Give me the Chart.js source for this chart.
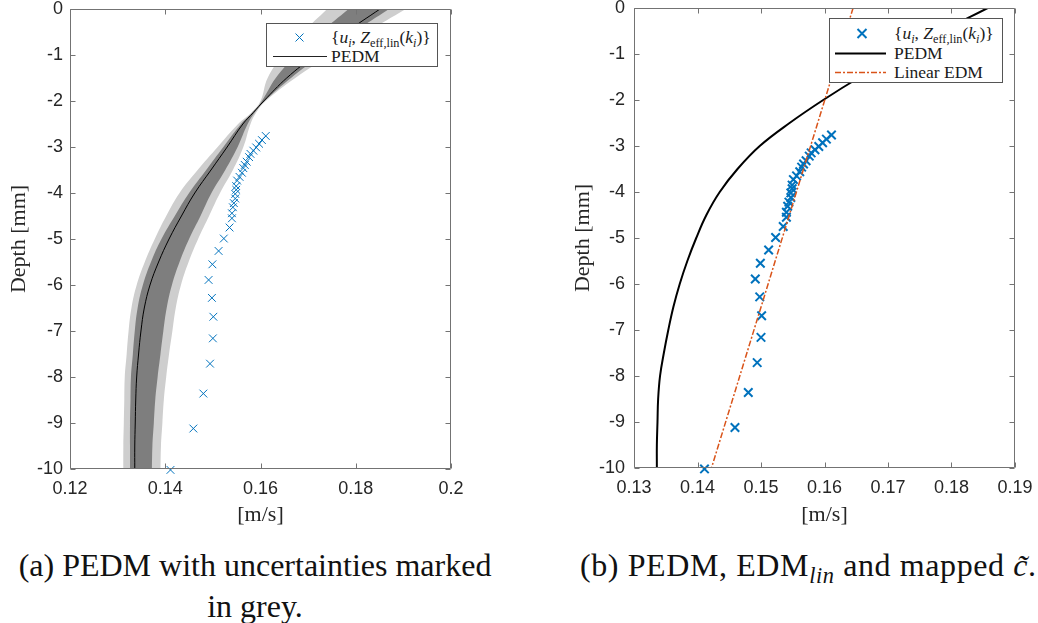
<!DOCTYPE html>
<html>
<head>
<meta charset="utf-8">
<script src="https://cdn.jsdelivr.net/npm/chart.js@4.4.1/dist/chart.umd.min.js"></script>
<style>
  html, body { margin: 0; padding: 0; background: #fff; }
  #page { position: relative; width: 1038px; height: 623px; overflow: hidden; background: #fff; }
  canvas { position: absolute; top: 0; }
  .leg { position: absolute; box-sizing: border-box; background: #fff; border: 1px solid #555;
         font-family: 'Liberation Serif', serif; font-size: 17.5px; color: #1a1a1a; }
  .leg .row { position: absolute; left: 0; height: 20px; display: flex; align-items: center; white-space: nowrap; }
  .leg svg { flex: none; }
  .leg .txt { margin-left: 3px; line-height: 20px; }
  sub { font-size: 70%; vertical-align: -0.3em; line-height: 0; }
  .cap { position: absolute; font-family: 'Liberation Serif', serif; font-size: 32px; line-height: 41px;
         color: #111; white-space: nowrap; }
</style>
</head>
<body>
<div id="page">
  <canvas id="chartA" width="470" height="530" style="left:0px"></canvas>
  <canvas id="chartB" width="478" height="530" style="left:560px"></canvas>

  <div class="leg" style="left:266px; top:23px; width:172px; height:44px;">
    <div class="row" style="top:3px">
      <svg width="61" height="20"><path d="M28.5 6.5 L36.5 14.5 M36.5 6.5 L28.5 14.5" stroke="#0072BD" stroke-width="1" fill="none"/></svg>
      <span class="txt">{<i>u</i><sub><i>i</i></sub>, <i>Z</i><sub>eff,lin</sub>(<i>k</i><sub><i>i</i></sub>)}</span>
    </div>
    <div class="row" style="top:22px">
      <svg width="61" height="20"><path d="M6 10.5 L60 10.5" stroke="#222" stroke-width="1" fill="none"/></svg>
      <span class="txt">PEDM</span>
    </div>
  </div>

  <div class="leg" style="left:829px; top:18px; width:174px; height:65px;">
    <div class="row" style="top:4px">
      <svg width="61" height="20"><path d="M27.5 6 L36.5 15 M36.5 6 L27.5 15" stroke="#0072BD" stroke-width="2" fill="none"/></svg>
      <span class="txt">{<i>u</i><sub><i>i</i></sub>, <i>Z</i><sub>eff,lin</sub>(<i>k</i><sub><i>i</i></sub>)}</span>
    </div>
    <div class="row" style="top:23.5px">
      <svg width="61" height="20"><path d="M5 10.5 L56 10.5" stroke="#000" stroke-width="2" fill="none"/></svg>
      <span class="txt">PEDM</span>
    </div>
    <div class="row" style="top:43px">
      <svg width="61" height="20"><path d="M5 10.5 L56 10.5" stroke="#D95319" stroke-width="1.5" stroke-dasharray="6 2 2 2" fill="none"/></svg>
      <span class="txt">Linear EDM</span>
    </div>
  </div>

  <div class="cap" style="left:0px; top:545px; width:510px; text-align:center;">(a) PEDM with uncertainties marked<br>in grey.</div>
  <div class="cap" style="left:580px; top:545px; letter-spacing:0.6px;">(b) PEDM, EDM<sub><i>lin</i></sub> and mapped <i>c&#x303;</i>.</div>
</div>

<script>
// Depth grid [mm] used for the PEDM curve and its uncertainty bands (left panel)
const bandDepth = [0, -0.5, -1, -1.5, -2, -2.25, -2.5, -3, -3.5, -4, -4.5, -5, -5.5, -6, -6.5, -7, -7.5, -8, -8.5, -9, -9.5, -10];
// PEDM velocity profile [m/s]
const pedmA     = [0.1851, 0.1780, 0.1715, 0.1655, 0.1607, 0.1585, 0.1563, 0.1530, 0.1496, 0.1462, 0.1434, 0.1408, 0.1386, 0.1368, 0.1356, 0.1349, 0.1344, 0.1340, 0.1338, 0.1337, 0.1336, 0.1336];
// Inner (dark) uncertainty band
const darkLow   = [0.1785, 0.1727, 0.1675, 0.1632, 0.1603, 0.1583, 0.1559, 0.1522, 0.1486, 0.1450, 0.1420, 0.1392, 0.1370, 0.1353, 0.1342, 0.1336, 0.1332, 0.1328, 0.1327, 0.1326, 0.1326, 0.1326];
const darkHigh  = [0.1870, 0.1796, 0.1728, 0.1664, 0.1609, 0.1588, 0.1573, 0.1552, 0.1526, 0.1497, 0.1474, 0.1450, 0.1430, 0.1414, 0.1403, 0.1396, 0.1390, 0.1384, 0.1379, 0.1376, 0.1373, 0.1372];
// Outer (light) uncertainty band
const lightLow  = [0.1740, 0.1690, 0.1647, 0.1615, 0.1600, 0.1581, 0.1553, 0.1510, 0.1468, 0.1430, 0.1402, 0.1378, 0.1357, 0.1340, 0.1329, 0.1323, 0.1319, 0.1315, 0.1314, 0.1313, 0.1312, 0.1312];
const lightHigh = [0.1905, 0.1824, 0.1747, 0.1673, 0.1611, 0.1591, 0.1579, 0.1564, 0.1542, 0.1515, 0.1492, 0.1469, 0.1449, 0.1433, 0.1422, 0.1415, 0.1408, 0.1402, 0.1397, 0.1394, 0.1391, 0.1390];

// PEDM profile shown in the right panel
const pedmDepth = [0, -0.5, -1, -1.5, -2, -2.5, -3, -3.5, -4, -4.5, -5, -5.5, -6, -6.5, -7, -7.5, -8, -8.5, -9, -9.5, -10];
const pedmB     = [0.1857, 0.1786, 0.1720, 0.1656, 0.1598, 0.1545, 0.1498, 0.1463, 0.1435, 0.1414, 0.1398, 0.1384, 0.1372, 0.1362, 0.1354, 0.1347, 0.1341, 0.1338, 0.1337, 0.1336, 0.1336];

// Linear EDM
const linDepth = [0, -10];
const linVel   = [0.1645, 0.1422];

// Mapped points {u_i, Z_eff,lin(k_i)}
const obsDepth = [-2.76, -2.85, -2.93, -3.01, -3.08, -3.15, -3.22, -3.32, -3.39, -3.46, -3.56, -3.65, -3.73, -3.85, -3.93, -4.02, -4.12, -4.22, -4.31, -4.44, -4.55, -4.75, -4.99, -5.26, -5.55, -5.89, -6.28, -6.69, -7.16, -7.71, -8.36, -9.12, -10.02];
const obsVel   = [0.1611, 0.1603, 0.1597, 0.1591, 0.1585, 0.1579, 0.1576, 0.1571, 0.1567, 0.1564, 0.1561, 0.1556, 0.1551, 0.1549, 0.1549, 0.1547, 0.1547, 0.1544, 0.1542, 0.1540, 0.1540, 0.1535, 0.1523, 0.1512, 0.1499, 0.1491, 0.1498, 0.1501, 0.1500, 0.1494, 0.1480, 0.1459, 0.1411];

// Axis ticks
const depthTicks  = [0, -1, -2, -3, -4, -5, -6, -7, -8, -9, -10];
const depthLabels = ['0', '-1', '-2', '-3', '-4', '-5', '-6', '-7', '-8', '-9', '-10'];
const velTicksA   = [0.12, 0.14, 0.16, 0.18, 0.2];
const velLabelsA  = ['0.12', '0.14', '0.16', '0.18', '0.2'];
const velTicksB   = [0.13, 0.14, 0.15, 0.16, 0.17, 0.18, 0.19];
const velLabelsB  = ['0.13', '0.14', '0.15', '0.16', '0.17', '0.18', '0.19'];

const pts = (vals, depths) => depths.map((d, i) => ({ x: vals[i], y: d }));

// MATLAB-style box with inward tick marks on all four sides
const boxFrame = {
  id: 'boxFrame',
  afterDatasetsDraw(chart) {
    const { ctx, chartArea: a, scales: { x, y } } = chart;
    const L = Math.round(a.left) + 0.5, R = Math.round(a.right) - 0.5;
    const T = Math.round(a.top) + 0.5, B = Math.round(a.bottom) - 0.5;
    const len = 5;
    ctx.save();
    ctx.strokeStyle = '#737373';
    ctx.lineWidth = 1;
    ctx.beginPath();
    ctx.rect(L, T, R - L, B - T);
    x.ticks.forEach(t => {
      const px = Math.round(x.getPixelForValue(t.value)) + 0.5;
      ctx.moveTo(px, B); ctx.lineTo(px, B - len);
      ctx.moveTo(px, T); ctx.lineTo(px, T + len);
    });
    y.ticks.forEach(t => {
      const py = Math.round(y.getPixelForValue(t.value)) + 0.5;
      ctx.moveTo(L, py); ctx.lineTo(L + len, py);
      ctx.moveTo(R, py); ctx.lineTo(R - len, py);
    });
    ctx.stroke();
    ctx.restore();
  }
};

function makeScales(cfg) {
  const tickFont = { family: "'Liberation Sans', Arial, sans-serif", size: 18 };
  const titleFont = { family: "'Liberation Serif', serif", size: 22 };
  return {
    x: {
      type: 'linear', position: 'bottom', min: cfg.xMin, max: cfg.xMax,
      afterBuildTicks: s => { s.ticks = cfg.xTicks.map(v => ({ value: v })); },
      afterFit: s => { s.height = cfg.xHeight; s.paddingLeft = 0; s.paddingRight = 0; },
      grid: { display: false, drawTicks: false },
      border: { display: false },
      ticks: {
        autoSkip: false, maxRotation: 0, padding: 9, color: '#262626', font: tickFont,
        callback: v => cfg.xLabels[cfg.xTicks.indexOf(v)]
      },
      title: { display: true, text: '[m/s]', color: '#262626', font: titleFont, padding: { top: 0, bottom: 2 } }
    },
    y: {
      type: 'linear', position: 'left', min: -10, max: 0,
      afterBuildTicks: s => { s.ticks = depthTicks.slice().reverse().map(v => ({ value: v })); },
      afterFit: s => { s.width = cfg.yWidth; s.paddingTop = 0; s.paddingBottom = 0; },
      grid: { display: false, drawTicks: false },
      border: { display: false },
      ticks: {
        autoSkip: false, padding: cfg.yPad, color: '#262626', font: tickFont,
        callback: v => depthLabels[depthTicks.indexOf(v)]
      },
      title: { display: true, text: 'Depth [mm]', color: '#262626', font: titleFont, padding: { top: cfg.yTitlePad, bottom: 0 } }
    }
  };
}

const common = {
  responsive: false,
  animation: false,
  devicePixelRatio: 1,
  indexAxis: 'y',
  events: [],
  plugins: { legend: { display: false }, tooltip: { enabled: false } }
};

const smooth = { tension: 0.4, pointRadius: 0 };
const band = (vals, fill, color) => Object.assign({
  data: pts(vals, bandDepth), borderColor: 'rgba(0,0,0,0)', borderWidth: 0,
  fill: fill, backgroundColor: color || 'rgba(0,0,0,0)'
}, smooth);

// Left panel: PEDM with grey uncertainty bands
new Chart(document.getElementById('chartA'), {
  type: 'line',
  data: {
    datasets: [
      { data: pts(obsVel, obsDepth), showLine: false, pointStyle: 'crossRot', pointRadius: 5.5,
        pointBorderWidth: 1, pointBorderColor: '#0072BD', pointBackgroundColor: 'rgba(0,0,0,0)', clip: 10 },
      Object.assign({ data: pts(pedmA, bandDepth), borderColor: '#000', borderWidth: 1, fill: false }, smooth),
      band(darkHigh, '+1', '#7e7e7e'),
      band(darkLow, false),
      band(lightHigh, '+1', '#cecece'),
      band(lightLow, false)
    ]
  },
  options: Object.assign({}, common, {
    layout: { padding: { top: 9, right: 19, left: 0, bottom: 0 } },
    scales: makeScales({ xMin: 0.12, xMax: 0.2, xTicks: velTicksA, xLabels: velLabelsA,
                         xHeight: 61, yWidth: 70, yPad: 7, yTitlePad: 6.5 })
  }),
  plugins: [boxFrame]
});

// Right panel: PEDM, linear EDM and mapped points
new Chart(document.getElementById('chartB'), {
  type: 'line',
  data: {
    datasets: [
      { data: pts(linVel, linDepth), borderColor: '#D95319', borderWidth: 1.5, borderDash: [6, 2, 2, 2],
        pointRadius: 0, fill: false },
      Object.assign({ data: pts(pedmB, pedmDepth), borderColor: '#000', borderWidth: 2, fill: false }, smooth),
      { data: pts(obsVel, obsDepth), showLine: false, pointStyle: 'crossRot', pointRadius: 6,
        pointBorderWidth: 2, pointBorderColor: '#0072BD', pointBackgroundColor: 'rgba(0,0,0,0)', clip: 10 }
    ]
  },
  options: Object.assign({}, common, {
    layout: { padding: { top: 4, right: 23, left: 0, bottom: 0 } },
    scales: makeScales({ xMin: 0.13, xMax: 0.19, xTicks: velTicksB, xLabels: velLabelsB,
                         xHeight: 62, yWidth: 74, yPad: 9, yTitlePad: 10 })
  }),
  plugins: [boxFrame]
});
</script>
</body>
</html>
